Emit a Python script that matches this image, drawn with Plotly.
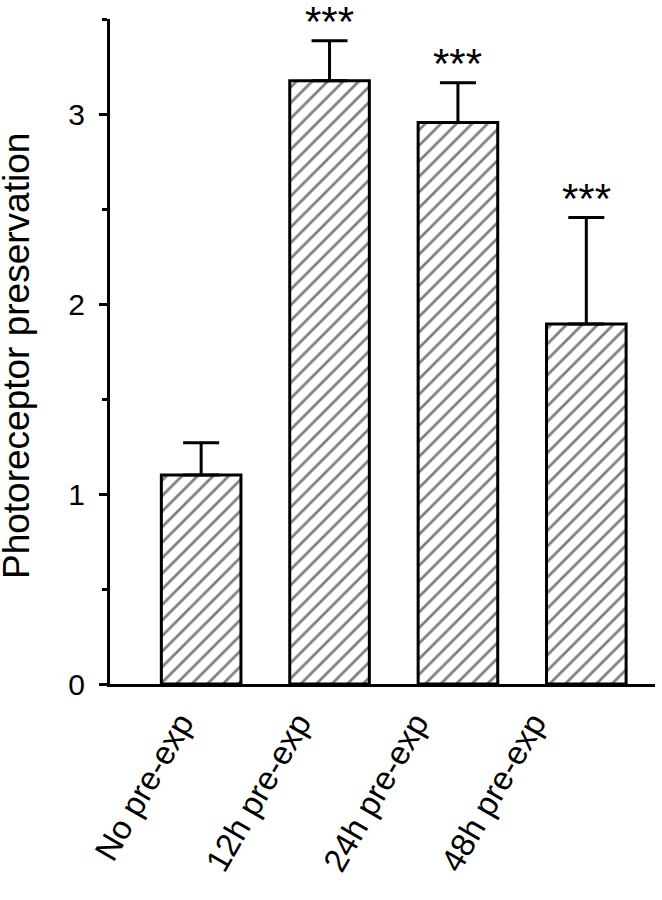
import plotly.graph_objects as go

categories = ["No pre-exp", "12h pre-exp", "24h pre-exp", "48h pre-exp"]
means = [1.10, 3.175, 2.955, 1.895]
errors = [0.17, 0.21, 0.21, 0.56]
stars = ["", "***", "***", "***"]

FONT = "Liberation Sans, Arial, Helvetica, sans-serif"
idx = list(range(len(categories)))

fig = go.Figure()
fig.add_trace(go.Bar(
    x=idx,
    y=means,
    width=0.62,
    marker=dict(
        color="white",
        line=dict(color="black", width=3),
        pattern=dict(shape="/", size=11, solidity=0.25, fgcolor="black", bgcolor="white"),
    ),
    error_y=dict(type="data", array=errors, arrayminus=[0] * len(errors), symmetric=False,
                 color="black", thickness=3, width=18),
    showlegend=False,
))
# invisible carrier trace for the category label axis
fig.add_trace(go.Scatter(x=idx, y=[0] * len(idx), xaxis="x2", mode="markers",
                         marker=dict(opacity=0), hoverinfo="skip", showlegend=False))

for i, (m, e, s) in enumerate(zip(means, errors, stars)):
    if s:
        fig.add_annotation(x=i, y=m + e, text=s, showarrow=False, yanchor="bottom",
                           yshift=-6, font=dict(family=FONT, size=42, color="black"))

fig.add_annotation(xref="paper", yref="paper", x=-0.172, y=0.4936, text="Photoreceptor preservation",
                   textangle=-90, showarrow=False, xanchor="center", yanchor="middle",
                   font=dict(family=FONT, size=37, color="black"))

fig.update_layout(
    width=662, height=900,
    margin=dict(l=109.5, r=7, t=19, b=215.5, autoexpand=False),
    paper_bgcolor="white", plot_bgcolor="white",
    font=dict(family=FONT, color="black"),
    xaxis=dict(
        range=[-0.71, 3.535], showline=True, linewidth=3, linecolor="black", showgrid=False,
        zeroline=False, ticks="", showticklabels=False, automargin=False,
    ),
    xaxis2=dict(
        overlaying="x", side="bottom", anchor="y", range=[-0.6, 4.039], showline=False,
        showgrid=False, zeroline=False, ticks="", tickmode="array", tickvals=idx,
        ticktext=categories, tickangle=-60, ticklabelstandoff=12,
        tickfont=dict(family=FONT, size=33, color="black"),
        automargin=False,
    ),
    yaxis=dict(
        range=[0, 3.5], showline=True, linewidth=3, linecolor="black", showgrid=False,
        zeroline=False, ticks="outside", ticklen=8, tickwidth=3, tickcolor="black",
        tickmode="array", tickvals=[0, 1, 2, 3], ticklabelstandoff=8,
        minor=dict(tickmode="array", tickvals=[0.5, 1.5, 2.5, 3.5], ticks="outside",
                   ticklen=5, tickwidth=3, tickcolor="black"),
        tickfont=dict(family=FONT, size=30, color="black"),
        automargin=False,
    ),
)

fig.write_html("out.html", config={"displayModeBar": False},
               post_script="document.body.style.margin='0';")
